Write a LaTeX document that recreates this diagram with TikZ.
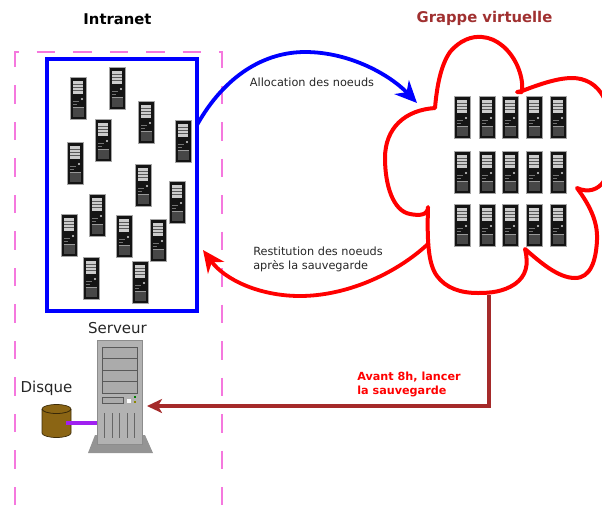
\documentclass[tikz,border=0pt]{standalone}
\usepackage{fontspec}
\setmainfont{DejaVu Sans}
\usetikzlibrary{arrows.meta}
\definecolor{brn}{RGB}{165,42,42}
\definecolor{grp}{RGB}{160,48,48}
\definecolor{pnk}{RGB}{245,120,222}
\definecolor{prp}{RGB}{160,32,240}
\definecolor{dsk}{RGB}{139,101,20}
\tikzset{x=1pt,y=-1pt,
 lab/.style={font=\fontsize{11.3}{13.5}\selectfont,align=left,text=black!85,inner sep=0},
 tit/.style={font=\bfseries\fontsize{14.8}{17}\selectfont,inner sep=0},
 lnk/.style={line width=3.8pt,-{Stealth[length=22pt,width=20pt,inset=7pt]}},
 pics/srv/.style={code={
  \fill[black!92,draw=black!35,line width=.7pt] (-8,-21) rectangle (8,21);
  \fill[black!20] (-5,-17) rectangle (5,-4);
  \foreach \y in {-14,-11,-8}{\draw[black!65,line width=.6pt] (-5,\y)--(5,\y);}
  \fill[white!85!black] (4,1) circle (1.2);
  \draw[black!55,line width=.5pt] (-5,3)--(1,3) (-5,6)--(-1,6);
  \fill[black!72] (-5.5,9) rectangle (5.5,19);
  \draw[black!40,line width=.7pt] (-5.5,9)--(5.5,9);
 }}}
\begin{document}
\begin{tikzpicture}
\useasboundingbox (0,0) rectangle (602,515);
\node[tit] (ttA) at (117.5,19) {Intranet};
\node[tit,text=grp] (ttB) at (484.5,18) {Grappe virtuelle};
\draw[pnk,line width=2.6pt,dash pattern=on 18.5pt off 18pt] (15,505)--(15,52)--(222,52)--(222,505);
\node[draw=blue,line width=3.8pt,minimum width=150pt,minimum height=252pt,inner sep=0] (pool) at (122,185) {};
\foreach \p/\q in {78/98,117/88,146/122,103/140,183/141,75/163,143/185,177/202,97/215,69/235,124/236,158/240,91/278,140/282}
  \pic at (\p,\q) {srv};
\draw[red,line width=4pt,line join=round]
 (435,108) .. controls (437,85) and (441,65) .. (450,52)
 .. controls (460,40) and (472,36) .. (482,37)
 .. controls (497,38) and (510,50) .. (517,65)
 .. controls (521,74) and (523,83) .. (522,92)
 -- (517,92) -- (522,91)
 .. controls (540,84) and (558,78) .. (572,78)
 .. controls (585,78) and (597,84) .. (604,98)
 -- (606,178) -- (604,181)
 .. controls (598,190) and (588,193) .. (577,188)
 .. controls (588,203) and (598,220) .. (597,240)
 .. controls (596,262) and (590,278) .. (575,278)
 .. controls (558,278) and (540,262) .. (525,249)
 .. controls (529,265) and (526,276) .. (515,284)
 .. controls (503,292) and (490,293) .. (478,293)
 .. controls (460,293) and (446,288) .. (437,276)
 .. controls (428,264) and (427,240) .. (428,207)
 .. controls (428,215) and (420,216) .. (410,214)
 .. controls (393,211) and (385,185) .. (385,158)
 .. controls (385,128) and (405,110) .. (435,108) -- cycle;
\foreach \p in {462,487,510,534,558} \foreach \q in {117,172,225}
  \pic at (\p,\q) {srv};
\coordinate (cloudin) at (417,103);
\coordinate (cloudout) at (429,243);
\coordinate (poolin) at (203,250);
\coordinate (poolout) at (197,125);
\draw[blue,lnk] (poolout) .. controls (225,75) and (265,52) .. (305,52) .. controls (350,52) and (390,75) .. (cloudin);
\draw[red,lnk] (cloudout) .. controls (395,275) and (345,296) .. (300,296) .. controls (260,296) and (225,280) .. (poolin);
\node[lab] (la) at (312,82.5) {Allocation des noeuds};
\node[lab] (lb) at (318,259.5) {Restitution des noeuds\\après la sauvegarde};
\node[font=\bfseries\fontsize{11.2}{14}\selectfont,align=left,text=red,inner sep=0] (lc) at (409,384) {Avant 8h, lancer\\la sauvegarde};
% big server
\fill[black!42] (95,435)--(145,435)--(153,453)--(88,453)--cycle;
\node[fill=black!30,draw=black!45,line width=1pt,minimum width=45pt,minimum height=104pt,inner sep=0] (srvbig) at (119.5,392) {};
\foreach \y in {347,358.5,370,381.5}{\draw[fill=black!33,draw=black!65,line width=.9pt] (102,\y) rectangle (137,\y+11.5);}
\draw[fill=black!33,draw=black!65,line width=.8pt] (102,397) rectangle (123,403);
\fill[white] (127,399) rectangle (131,403);
\fill[green!50!black] (134,396) rectangle (136,398);
\fill[olive] (134,401) rectangle (136,403);
\foreach \x in {104,112,119,127,134}{\draw[black!60,line width=.9pt] (\x,413)--(\x,438);}
% disk
\coordinate (dskc) at (66,423);
\draw[black!55!dsk,line width=.7pt,fill=dsk] (42,409) arc[start angle=180,end angle=0,x radius=14.5,y radius=-4.5] -- (71,433) arc[start angle=0,end angle=-180,x radius=14.5,y radius=-4.5] -- cycle;
\draw[black!60!dsk,line width=.8pt] (42,409) arc[start angle=180,end angle=360,x radius=14.5,y radius=-4.5];
\draw[prp,line width=3.4pt] (dskc)--(srvbig.west |- dskc);
\coordinate (corner) at (489,406);
\coordinate (srvtip) at (147,406);
\draw[brn,line width=3.6pt,-{Stealth[length=15pt,width=14pt,inset=4pt]}] (489,295)--(corner)--(srvtip);
\node[font=\fontsize{15}{17}\selectfont,text=black!85,inner sep=0] (ls) at (117.5,328) {Serveur};
\node[font=\fontsize{15}{17}\selectfont,text=black!85,inner sep=0] (ld) at (46.5,388) {Disque};
\end{tikzpicture}
\end{document}
